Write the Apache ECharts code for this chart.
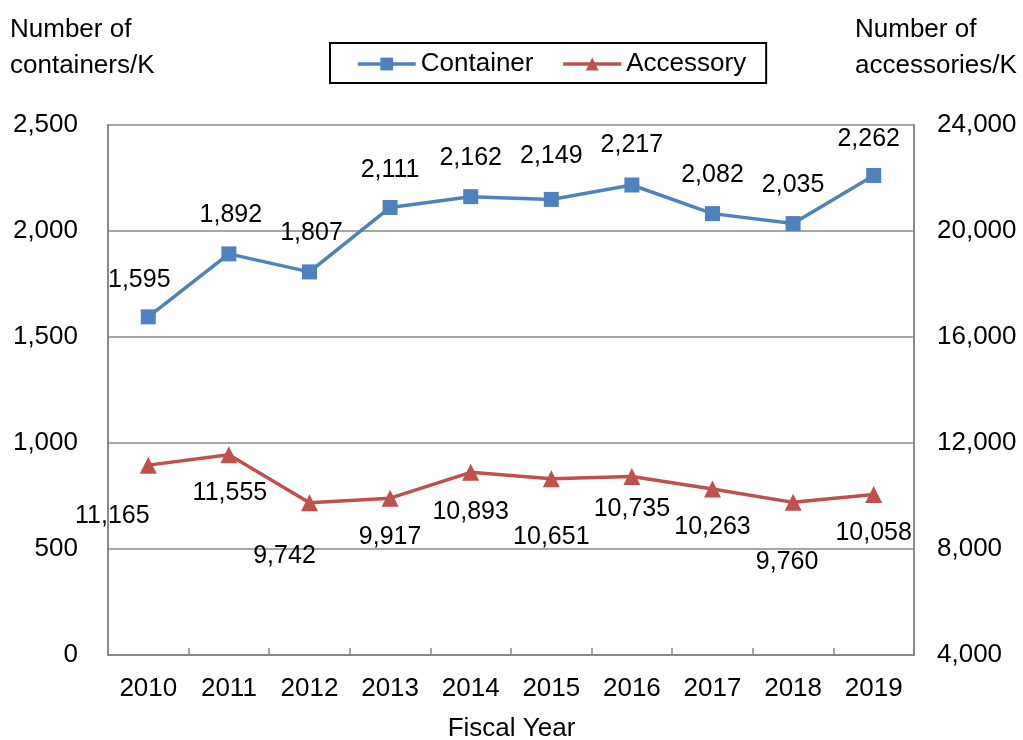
<!DOCTYPE html>
<html>
<head>
<meta charset="utf-8">
<script src="https://cdn.jsdelivr.net/npm/echarts@6/dist/echarts.min.js"></script>
<style>
html,body{margin:0;padding:0;background:#fff;}
#chart{width:1023px;height:740px;}
</style>
</head>
<body>
<div id="chart"></div>
<script>
const years = ['2010','2011','2012','2013','2014','2015','2016','2017','2018','2019'];
const containers = [1595, 1892, 1807, 2111, 2162, 2149, 2217, 2082, 2035, 2262];
const accessories = [11165, 11555, 9742, 9917, 10893, 10651, 10735, 10263, 9760, 10058];

// label placement (style, not data)
const containerLabelOffsets = [[-9,-37],[2,-39],[2,-39],[0,-37],[0,-39],[0,-43],[0,-40],[0,-39],[0,-38],[-5,-36]];
const accessoryLabelOffsets = [[-36,51],[1,38],[-25,53],[0,39],[0,40],[0,58],[0,33],[0,38],[-6,60],[0,39]];

const FONT = 'Liberation Sans';
const fmt = v => v.toLocaleString('en-US');

const chart = echarts.init(document.getElementById('chart'));
const labelBase = {show:true, position:'inside', color:'#000', fontSize:25, fontFamily:FONT, formatter:p=>fmt(p.value)};

chart.setOption({
  animation:false,
  backgroundColor:'#fff',
  textStyle:{fontFamily:FONT},
  grid:{left:108, right:109, top:125, bottom:85, containLabel:false},
  legend:{
    left:330, top:43, width:432,
    padding:[8,20,6,26],
    borderColor:'#000', borderWidth:2, borderRadius:0,
    itemWidth:58, itemHeight:16, itemGap:28,
    textStyle:{fontSize:26, color:'#000', fontFamily:FONT},
    lineStyle:{width:3.5},
    data:['Container','Accessory']
  },
  xAxis:{
    type:'category', data:years, boundaryGap:true,
    axisLine:{lineStyle:{color:'#888', width:2}},
    axisTick:{show:true, inside:true, length:7, lineStyle:{color:'#888', width:1.5}},
    axisLabel:{color:'#000', fontSize:26, fontFamily:FONT, margin:21}
  },
  yAxis:[
    {type:'value', min:0, max:2500, interval:500, position:'left',
     axisLine:{show:true, lineStyle:{color:'#888', width:2}}, axisTick:{show:false},
     splitLine:{show:true, lineStyle:{color:'#888', width:1.5}},
     axisLabel:{color:'#000', fontSize:26, fontFamily:FONT, margin:30, formatter:v=>fmt(v)}},
    {type:'value', min:4000, max:24000, interval:4000, position:'right',
     axisLine:{show:true, lineStyle:{color:'#888', width:2}}, axisTick:{show:false},
     splitLine:{show:false},
     axisLabel:{color:'#000', fontSize:26, fontFamily:FONT, margin:23, formatter:v=>fmt(v)}}
  ],
  graphic:[
    {type:'text', left:10, top:12, style:{text:'Number of\ncontainers/K', font:'26px "Liberation Sans"', fill:'#000', lineHeight:36}},
    {type:'text', left:855, top:12, style:{text:'Number of\naccessories/K', font:'26px "Liberation Sans"', fill:'#000', lineHeight:36}},
    {type:'text', left:'center', top:716, style:{text:'Fiscal Year', font:'26px "Liberation Sans"', fill:'#000'}}
  ],
  series:[
    {name:'Container', type:'line', yAxisIndex:0, data:containers.map((v,i)=>({value:v, label:{offset:containerLabelOffsets[i]}})),
     symbol:'rect', symbolSize:15, showAllSymbol:true,
     lineStyle:{color:'#4F81BD', width:3.5}, itemStyle:{color:'#4F81BD'},
     label:labelBase, z:3},
    {name:'Accessory', type:'line', yAxisIndex:1, data:accessories.map((v,i)=>({value:v, label:{offset:accessoryLabelOffsets[i]}})),
     symbol:'triangle', symbolSize:17, showAllSymbol:true,
     lineStyle:{color:'#C0504D', width:3.5}, itemStyle:{color:'#C0504D'},
     label:labelBase, z:2}
  ]
});
</script>
</body>
</html>
